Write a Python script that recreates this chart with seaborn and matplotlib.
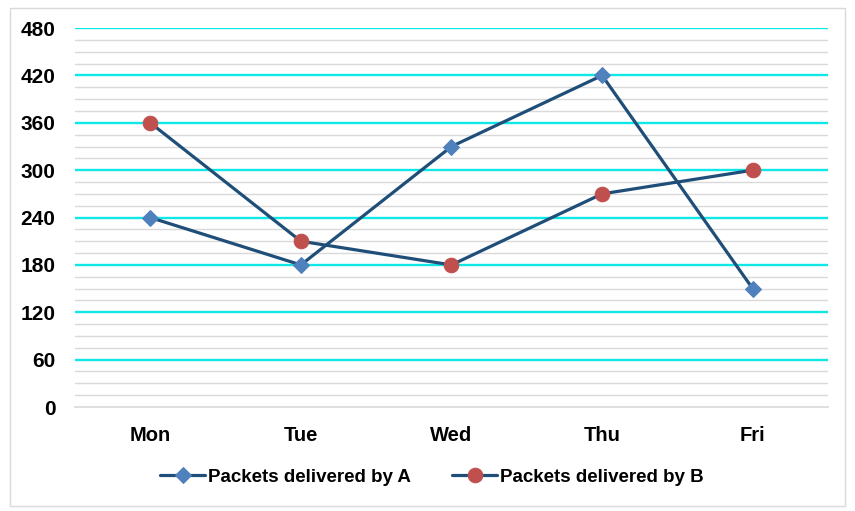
import matplotlib
matplotlib.use("Agg")
import matplotlib.pyplot as plt
import seaborn as sns
from matplotlib.patches import Rectangle

days = ["Mon", "Tue", "Wed", "Thu", "Fri"]
packets_a = [240, 180, 330, 420, 150]
packets_b = [360, 210, 180, 270, 300]
y_ticks = [0, 60, 120, 180, 240, 300, 360, 420, 480]

sns.set_style("white")
plt.rcParams["font.family"] = ["Liberation Sans", "DejaVu Sans"]
plt.rcParams["font.weight"] = "bold"
plt.rcParams["text.color"] = "black"
plt.rcParams["xtick.color"] = "black"
plt.rcParams["ytick.color"] = "black"

fig = plt.figure(figsize=(8.55, 5.11), dpi=100)
ax = fig.add_axes([0.0877, 0.2035, 0.8807, 0.7415])

line_col = "#1F4E79"
sns.lineplot(x=days, y=packets_a, ax=ax, color=line_col, linewidth=2.3,
             marker="D", markersize=8, markerfacecolor="#4F81BD",
             markeredgecolor="#4F81BD", label="Packets delivered by A", zorder=3)
sns.lineplot(x=days, y=packets_b, ax=ax, color=line_col, linewidth=2.3,
             marker="o", markersize=10.5, markerfacecolor="#C0504D",
             markeredgecolor="#C0504D", label="Packets delivered by B", zorder=3)

ax.set_xlim(-0.5, 4.5)
ax.set_ylim(0, 480)
ax.set_yticks(y_ticks)
ax.set_yticks(range(0, 481, 15), minor=True)
ax.grid(axis="y", which="minor", color="#D9D9D9", linewidth=1.0, zorder=0)
ax.grid(axis="y", which="major", color="#10E8E8", linewidth=1.7, zorder=1)
ax.get_ygridlines()[0].set_visible(False)
ax.set_xticks(range(len(days)))
ax.set_xticklabels(days)
ax.set_xticks([i - 0.5 for i in range(len(days) + 1)], minor=True)
ax.tick_params(axis="x", which="major", length=0, labelsize=14.5, pad=14)
ax.tick_params(axis="x", which="minor", length=7, width=1, color="#D9D9D9", direction="out")
ax.tick_params(axis="y", which="both", length=0, labelsize=15, pad=14)
for lab in ax.get_xticklabels() + ax.get_yticklabels():
    lab.set_fontweight("bold")
    lab.set_color("black")

for s in ["top", "right", "left"]:
    ax.spines[s].set_visible(False)
ax.spines["bottom"].set_color("#D9D9D9")
ax.spines["bottom"].set_linewidth(1.2)
ax.set_xlabel("")
ax.set_ylabel("")

leg = ax.legend(loc="center", bbox_to_anchor=(0.505, 0.066), bbox_transform=fig.transFigure,
                ncol=2, frameon=False, handlelength=2.4, handletextpad=0.15,
                columnspacing=2.2, prop={"weight": "bold", "size": 13.5})
for t in leg.get_texts():
    t.set_color("black")

fig.add_artist(Rectangle((0.012, 0.01), 0.976, 0.975, transform=fig.transFigure,
                         fill=False, edgecolor="#D9D9D9", linewidth=1))

fig.savefig("out.png", dpi=100)
